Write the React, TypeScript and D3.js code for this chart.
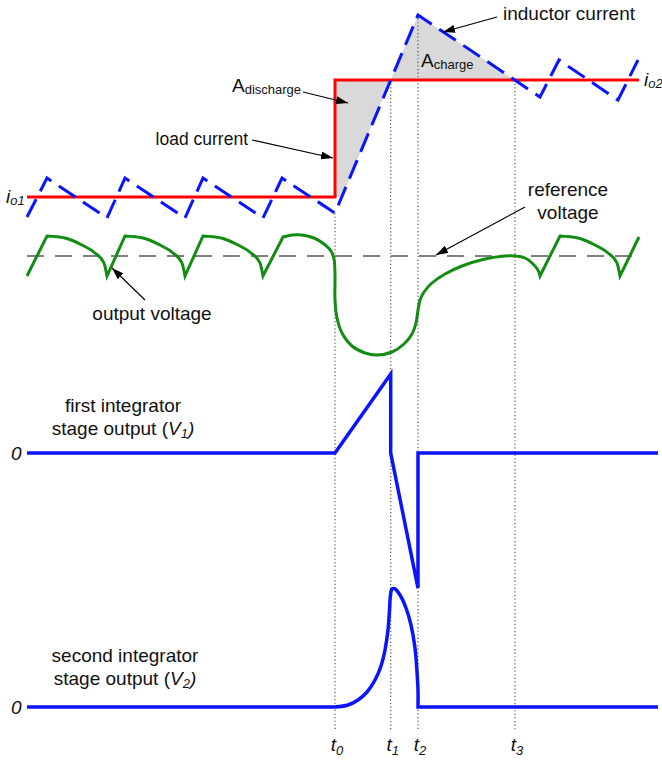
import React from 'react';
import * as d3 from 'd3';

const FONT = '"Liberation Sans", Arial, Helvetica, sans-serif';

// ---- time axis (arbitrary time units) ----
const T_DOMAIN = [0, 613];
const T_MARK_SUBS = ['0', '1', '2', '3'];
const T_MARK_TIMES = [308, 363.7, 391, 488];

// ---- currents (io1 = 0, io2 = 1) ----
const LOAD_T = [0, 308, 308, 612];
const LOAD_I = [0, 0, 1, 1];
const IND_T = [0, 20, 80, 98, 158, 176, 236, 255, 308, 391, 513, 532, 591, 611];
const IND_I = [-0.171, 0.162, -0.18, 0.162, -0.18, 0.162, -0.18, 0.162, -0.137, 1.556, 0.855, 1.171, 0.829, 1.171];

// ---- output voltage (reference = 0, ripple +/-1) ----
type Seg = { kind: 'line' | 'arc' | 'smooth'; pts: [number, number][] };
const VOUT_SEGMENTS: Seg[] = [
  { kind: 'line', pts: [[0, -1], [20, 1]] },
  { kind: 'arc', pts: [[20, 1], [38, 0.9], [55, 0.55], [68, 0.15], [77, -0.35], [80, -1]] },
  { kind: 'line', pts: [[80, -1], [98, 1]] },
  { kind: 'arc', pts: [[98, 1], [116, 0.9], [133, 0.55], [146, 0.15], [155, -0.35], [158, -1]] },
  { kind: 'line', pts: [[158, -1], [176, 1]] },
  { kind: 'arc', pts: [[176, 1], [194, 0.9], [211, 0.55], [224, 0.15], [233, -0.35], [236, -1]] },
  { kind: 'line', pts: [[236, -1], [256, 0.95]] },
  {
    kind: 'smooth',
    pts: [
      [256, 0.95], [265, 1.05], [275, 1.05], [287, 0.9], [297, 0.6], [304, 0.25], [307, -0.15],
      [308, -0.95], [308, -2.2], [310, -3.1], [315, -3.85], [325, -4.5], [338, -4.85], [350, -4.95],
      [365, -4.8], [377, -4.4], [385, -3.9], [389, -3.35], [391, -2.7], [393, -2.2], [397, -1.8],
      [405, -1.35], [418, -0.9], [435, -0.5], [458, -0.15], [478, 0], [488, 0], [498, -0.1],
      [506, -0.4], [511, -0.7], [513, -1],
    ],
  },
  { kind: 'line', pts: [[513, -1], [533, 1]] },
  { kind: 'arc', pts: [[533, 1], [551, 0.9], [568, 0.55], [581, 0.15], [590, -0.35], [593, -1]] },
  { kind: 'line', pts: [[593, -1], [612, 0.95]] },
];
const VREF_T = [0, 613];

// ---- first integrator V1 ----
const V1_T = [0, 308, 363.7, 363.7, 391, 391, 631];
const V1_V = [0, 0, 1, 0, -1.71, 0, 0];

// ---- second integrator V2 ----
const V2_FLAT1: [number, number][] = [[0, 0], [308, 0]];
const V2_PULSE: [number, number][] = [
  [308, 0], [321, 0.017], [331, 0.059], [340, 0.126], [348, 0.227], [354, 0.345], [358, 0.479],
  [361, 0.647], [362.5, 0.815], [363.5, 0.941], [365, 0.992], [368, 0.992], [373, 0.941],
  [379, 0.832], [384, 0.689], [388, 0.496], [390, 0.294], [391, 0.143], [391, 0],
];
const V2_FLAT2: [number, number][] = [[391, 0], [631, 0]];

function interp(ts: number[], vs: number[], t: number): number {
  for (let i = 0; i < ts.length - 1; i++) {
    if (t >= ts[i] && t <= ts[i + 1] && ts[i + 1] > ts[i]) {
      const f = (t - ts[i]) / (ts[i + 1] - ts[i]);
      return vs[i] + f * (vs[i + 1] - vs[i]);
    }
  }
  return vs[vs.length - 1];
}
function crossing(ts: number[], vs: number[], level: number, from: number, to: number): number {
  for (let i = 0; i < ts.length - 1; i++) {
    if (ts[i] < from || ts[i + 1] > to) continue;
    const a = vs[i] - level, b = vs[i + 1] - level;
    if (a === b) continue;
    if ((a <= 0 && b >= 0) || (a >= 0 && b <= 0)) {
      return ts[i] + (-a / (b - a)) * (ts[i + 1] - ts[i]);
    }
  }
  return from;
}

export default function App() {
  const x = d3.scaleLinear().domain(T_DOMAIN).range([27, 640]);
  const yI = d3.scaleLinear().domain([0, 1]).range([197, 80]);
  const yV = d3.scaleLinear().domain([-1, 1]).range([276, 236]);
  const y1 = d3.scaleLinear().domain([0, 1]).range([453, 374]);
  const y2 = d3.scaleLinear().domain([0, 1]).range([707, 588]);
  const dotBottom = 730;

  const mkLine = (ts: number[], vs: number[], ys: d3.ScaleLinear<number, number>) =>
    d3.line<number>()
      .x((_, i) => x(ts[i]))
      .y((_, i) => ys(vs[i]))(ts) as string;

  const loadPath = mkLine(LOAD_T, LOAD_I, yI);
  const indPath = mkLine(IND_T, IND_I, yI);
  const v1Path = mkLine(V1_T, V1_V, y1);

  const segPath = (pts: [number, number][], curve: d3.CurveFactory, ys: d3.ScaleLinear<number, number>) =>
    d3.line<[number, number]>().x(d => x(d[0])).y(d => ys(d[1])).curve(curve)(pts) as string;
  const join = (parts: string[]) => parts.map((p, i) => (i === 0 ? p : 'L' + p.slice(1))).join('');

  const voutPath = join(
    VOUT_SEGMENTS.map(s =>
      segPath(
        s.pts,
        s.kind === 'line' ? d3.curveLinear : s.kind === 'arc' ? d3.curveMonotoneX : d3.curveCatmullRom.alpha(0.5),
        yV
      )
    )
  );
  const v2Path = join([
    segPath(V2_FLAT1, d3.curveLinear, y2),
    segPath(V2_PULSE, d3.curveCatmullRom.alpha(0.5), y2),
    segPath(V2_FLAT2, d3.curveLinear, y2),
  ]);

  // shaded areas
  const t0 = T_MARK_TIMES[0];
  const tc1 = crossing(IND_T, IND_I, 1, 300, 400);
  const tz = crossing(IND_T, IND_I, 0, 300, 400);
  const tPeak = IND_T[d3.maxIndex(IND_I)];
  const tc3 = crossing(IND_T, IND_I, 1, 391, 520);
  const polyD = (pts: [number, number][]) =>
    'M' + pts.map(p => `${x(p[0])},${yI(p[1])}`).join('L') + 'Z';
  const dischargePoly = polyD([[t0, 1], [tc1, 1], [tz, 0], [t0, 0]]);
  const chargePoly = polyD([[tc1, 1], [tPeak, IND_I[d3.maxIndex(IND_I)]], [tc3, 1]]);

  const blue = '#0a14ff';
  const red = '#ff0000';
  const green = '#128c12';
  const FS = 19;

  const txt = { fontFamily: FONT, fill: '#111' } as const;

  return (
    <svg
      width={662}
      height={760}
      style={{ position: 'absolute', left: 0, top: 0, background: '#fff' }}
      xmlns="http://www.w3.org/2000/svg"
    >
      <defs>
        <marker id="arr" viewBox="0 0 12 8" refX="12" refY="4" markerWidth="12" markerHeight="8"
          markerUnits="userSpaceOnUse" orient="auto">
          <path d="M0,0 L12,4 L0,8 Z" fill="#000" />
        </marker>
      </defs>
      <rect x={0} y={0} width={662} height={760} fill="#fff" />

      {/* shaded areas */}
      <path d={dischargePoly} fill="#d9d9d9" />
      <path d={chargePoly} fill="#d9d9d9" />

      {/* dotted time markers */}
      {T_MARK_TIMES.map((t, i) => (
        <line key={'d' + i} x1={x(t)} x2={x(t)} y1={yI(interp(IND_T, IND_I, t))} y2={dotBottom}
          stroke="#555" strokeWidth={1.2} strokeDasharray="1.2,2.4" />
      ))}

      {/* reference voltage */}
      <line x1={x(VREF_T[0])} x2={x(VREF_T[1])} y1={yV(0)} y2={yV(0)} stroke="#555"
        strokeWidth={1.5} strokeDasharray="17,11" />

      {/* currents */}
      <path d={loadPath} fill="none" stroke={red} strokeWidth={3} />
      <path d={indPath} fill="none" stroke={blue} strokeWidth={3} strokeDasharray="20,9" />

      {/* output voltage */}
      <path d={voutPath} fill="none" stroke={green} strokeWidth={3} strokeLinejoin="miter" />

      {/* integrators */}
      <path d={v1Path} fill="none" stroke={blue} strokeWidth={3.5} />
      <path d={v2Path} fill="none" stroke={blue} strokeWidth={3.5} />

      {/* arrows */}
      <line x1={497} y1={17} x2={443} y2={32} stroke="#000" strokeWidth={1.2} markerEnd="url(#arr)" />
      <line x1={303} y1={92} x2={348} y2={103} stroke="#000" strokeWidth={1.2} markerEnd="url(#arr)" />
      <line x1={252} y1={140} x2={333} y2={158} stroke="#000" strokeWidth={1.2} markerEnd="url(#arr)" />
      <line x1={525} y1={207} x2={436} y2={255} stroke="#000" strokeWidth={1.2} markerEnd="url(#arr)" />
      <line x1={145} y1={300} x2={112} y2={268} stroke="#000" strokeWidth={1.2} markerEnd="url(#arr)" />

      {/* labels */}
      <text x={503} y={20} fontSize={FS} {...txt}>inductor current</text>
      <text x={421} y={67} fontSize={FS} {...txt}>A<tspan fontSize={13} dy={2}>charge</tspan></text>
      <text x={232} y={92} fontSize={FS} {...txt}>A<tspan fontSize={13} dy={2}>discharge</tspan></text>
      <text x={248} y={145} fontSize={17.5} textAnchor="end" {...txt}>load current</text>
      <text x={568} y={196} fontSize={FS} textAnchor="middle" {...txt}>reference</text>
      <text x={568} y={219} fontSize={FS} textAnchor="middle" {...txt}>voltage</text>
      <text x={152} y={320} fontSize={FS} textAnchor="middle" {...txt}>output voltage</text>

      <text x={6} y={203} fontSize={19} fontStyle="italic" {...txt}>i<tspan fontSize={13} dy={2}>o1</tspan></text>
      <text x={644} y={86} fontSize={19} fontStyle="italic" {...txt}>i<tspan fontSize={13} dy={2}>o2</tspan></text>

      <text x={123} y={412} fontSize={FS} textAnchor="middle" {...txt}>first integrator</text>
      <text x={123} y={435} fontSize={FS} textAnchor="middle" {...txt}>
        stage output (<tspan fontStyle="italic">V</tspan><tspan fontStyle="italic" fontSize={13} dy={3}>1</tspan><tspan fontStyle="italic" dy={-3}>)</tspan>
      </text>
      <text x={125} y={662} fontSize={FS} textAnchor="middle" {...txt}>second integrator</text>
      <text x={125} y={685} fontSize={FS} textAnchor="middle" {...txt}>
        stage output (<tspan fontStyle="italic">V</tspan><tspan fontStyle="italic" fontSize={13} dy={3}>2</tspan><tspan fontStyle="italic" dy={-3}>)</tspan>
      </text>

      <text x={11} y={y1(0) + 7} fontSize={19} fontStyle="italic" {...txt}>0</text>
      <text x={11} y={y2(0) + 7} fontSize={19} fontStyle="italic" {...txt}>0</text>

      {T_MARK_TIMES.map((t, i) => (
        <text key={'t' + i} x={x(t) + 2} y={751} fontSize={19} fontStyle="italic" textAnchor="middle" {...txt}>
          t<tspan fontSize={13} dy={4}>{T_MARK_SUBS[i]}</tspan>
        </text>
      ))}
    </svg>
  );
}
